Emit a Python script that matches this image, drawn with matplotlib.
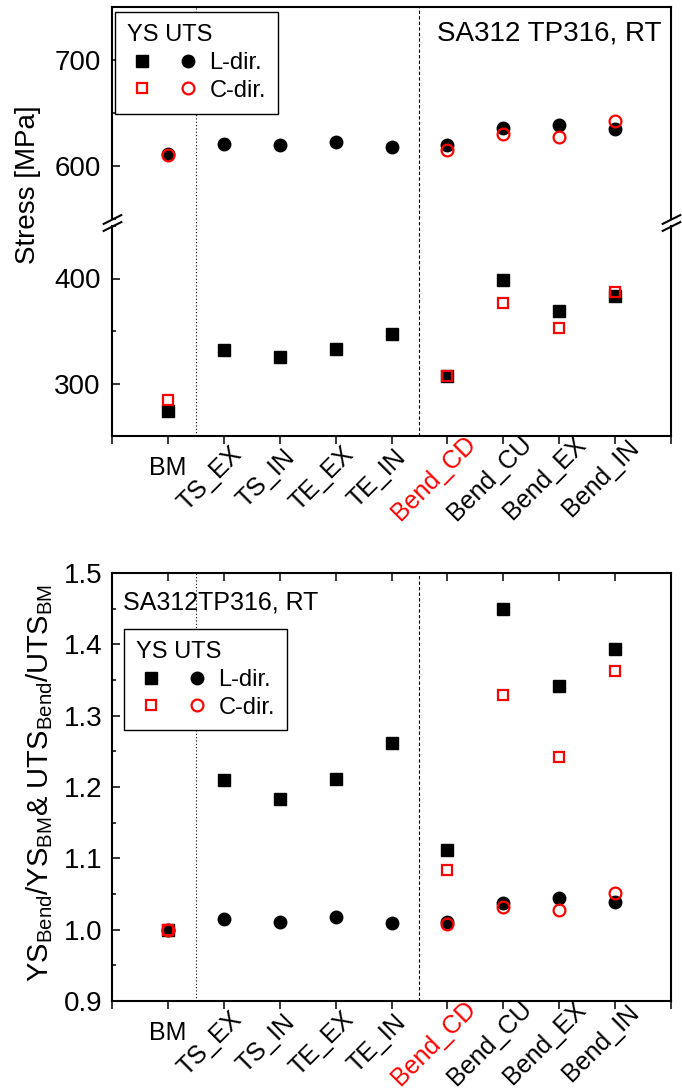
import numpy as np
import matplotlib
matplotlib.use('Agg')
import matplotlib.pyplot as plt
from matplotlib.ticker import MultipleLocator
from matplotlib.legend_handler import HandlerTuple
from matplotlib.transforms import ScaledTranslation

plt.rcParams['font.family'] = ['Liberation Sans', 'DejaVu Sans']
plt.rcParams['mathtext.fontset'] = 'custom'
plt.rcParams['mathtext.rm'] = 'Liberation Sans'
plt.rcParams['mathtext.default'] = 'regular'

# data
cats = ['BM', 'TS_EX', 'TS_IN', 'TE_EX', 'TE_IN', 'Bend_CD', 'Bend_CU', 'Bend_EX', 'Bend_IN']
nan = np.nan
ys_L = [274, 332, 325, 333, 347, 307, 399, 369, 383]
ys_C = [284, nan, nan, nan, nan, 307, 377, 353, 387]
uts_L = [611, 621, 619.5, 623, 617.5, 620, 635.5, 638.5, 635]
uts_C = [610, nan, nan, nan, nan, 615.5, 630, 627, 642.5]

ysr_L = [1.000, 1.210, 1.183, 1.211, 1.261, 1.111, 1.449, 1.342, 1.393]
ysr_C = [1.000, nan, nan, nan, nan, 1.083, 1.329, 1.242, 1.363]
utsr_L = [1.000, 1.015, 1.011, 1.018, 1.009, 1.011, 1.037, 1.044, 1.039]
utsr_C = [1.000, nan, nan, nan, nan, 1.008, 1.032, 1.028, 1.052]

x = np.arange(1, len(cats) + 1)

W, H = 682, 1092
fig = plt.figure(figsize=(W / 100, H / 100), dpi=100)
ax_u = fig.add_axes([112 / W, 1 - 219 / H, 559 / W, 212 / H])
ax_l = fig.add_axes([112 / W, 1 - 436 / H, 559 / W, 210 / H])
ax_b = fig.add_axes([112 / W, 1 - 1001 / H, 559 / W, 428 / H])

sq_L = dict(marker='s', ls='none', ms=8, mfc='k', mec='k', mew=1)
ci_L = dict(marker='o', ls='none', ms=9, mfc='k', mec='k', mew=1)
sq_C = dict(marker='s', ls='none', ms=7, mfc='none', mec='#ff0000', mew=1.6)
ci_C = dict(marker='o', ls='none', ms=8.5, mfc='none', mec='#ff0000', mew=1.6)

for ax in (ax_u, ax_l, ax_b):
    for s in ax.spines.values():
        s.set_linewidth(1.5)
    ax.set_xlim(0, 10)
    ax.tick_params(axis='y', which='both', direction='in', labelsize=20, pad=8, width=1.1)
    ax.tick_params(axis='y', which='major', length=6)
    ax.tick_params(axis='y', which='minor', length=3)

# separators; the lower stress axis reaches up through the break gap
for ax, top in ((ax_u, 1), (ax_l, 1.035), (ax_b, 1)):
    ax.axvline(1.5, ymax=top, color='k', lw=0.8, ls=(0, (1, 2)), zorder=1, clip_on=False)
    ax.axvline(5.5, ymax=top, color='k', lw=0.8, ls=(0, (3, 2)), zorder=1, clip_on=False)

# top panel, broken axis
for ax in (ax_u, ax_l):
    ax.plot(x, ys_L, **sq_L)
    ax.plot(x, uts_L, **ci_L)
    ax.plot(x, ys_C, **sq_C)
    ax.plot(x, uts_C, **ci_C)

ax_u.set_ylim(550, 750)
ax_l.set_ylim(250, 450)
for ax in (ax_u, ax_l):
    ax.yaxis.set_major_locator(MultipleLocator(100))
    ax.yaxis.set_minor_locator(MultipleLocator(50))
ax_u.spines['bottom'].set_visible(False)
ax_l.spines['top'].set_visible(False)
ax_u.tick_params(axis='x', which='both', bottom=False, top=False, labelbottom=False)

brk = dict(marker=[(-1, -0.5), (1, 0.5)], markersize=14, ls='none', color='k',
           mec='k', mew=1.5, clip_on=False)
ax_u.plot([0, 1], [0, 0], transform=ax_u.transAxes, **brk)
ax_l.plot([0, 1], [1, 1], transform=ax_l.transAxes, **brk)

ax_u.text(0.581, 0.844, 'SA312 TP316, RT', transform=ax_u.transAxes, fontsize=20,
          ha='left', va='baseline')

# bottom panel
p_sqL, = ax_b.plot(x, ysr_L, **sq_L)
p_ciL, = ax_b.plot(x, utsr_L, **ci_L)
p_sqC, = ax_b.plot(x, ysr_C, **sq_C)
p_ciC, = ax_b.plot(x, utsr_C, **ci_C)
ax_b.set_ylim(0.9, 1.5)
ax_b.yaxis.set_major_locator(MultipleLocator(0.1))
ax_b.yaxis.set_minor_locator(MultipleLocator(0.05))
ax_b.yaxis.set_major_formatter(matplotlib.ticker.FormatStrFormatter('%.1f'))
ax_b.tick_params(axis='y', pad=7)
ax_b.text(0.0197, 0.9136, 'SA312TP316, RT', transform=ax_b.transAxes, fontsize=18,
          ha='left', va='baseline')


def cat_axis(ax, top_ticks):
    ax.set_xticks(np.arange(0, 11))
    ax.set_xticklabels([''] + cats + [''])
    ax.xaxis.set_minor_locator(matplotlib.ticker.NullLocator())
    ax.tick_params(axis='x', which='major', bottom=True, top=top_ticks, direction='out',
                   length=6, width=1.1, labelsize=18, pad=23)
    if top_ticks:
        for t in ax.xaxis.get_major_ticks():
            t.tick2line.set_marker(matplotlib.lines.TICKDOWN)
    for i, lab in enumerate(ax.get_xticklabels()):
        if i == 0 or i == 10:
            continue
        lab.set_rotation_mode('anchor')
        lab.set_ha('center')
        lab.set_va('center')
        if cats[i - 1] == 'BM':
            lab.set_rotation(0)
            off = ScaledTranslation(0, 8 / 100, fig.dpi_scale_trans)
        else:
            lab.set_rotation(45)
            off = ScaledTranslation(-14 / 100, -2 / 100, fig.dpi_scale_trans)
        if cats[i - 1] == 'Bend_CD':
            lab.set_color('#ff0000')
        lab.set_transform(lab.get_transform() + off)


cat_axis(ax_l, False)
cat_axis(ax_b, True)

# legends: YS square and UTS circle side by side
hL = (p_sqL, p_ciL)
hC = (p_sqC, p_ciC)
for ax, anchor in ((ax_u, (0.0054, 0.976)), (ax_b, (0.0215, 0.869))):
    leg = ax.legend([hL, hC], ['L-dir.', 'C-dir.'], title='YS UTS', alignment='left',
                    handler_map={tuple: HandlerTuple(ndivide=None, pad=0.7)},
                    handlelength=3.2, handletextpad=0.3, fontsize=17, title_fontsize=17,
                    loc='upper left', bbox_to_anchor=anchor, borderaxespad=0,
                    fancybox=False, framealpha=1, edgecolor='k', labelspacing=0.25,
                    borderpad=0.5)
    leg.get_frame().set_linewidth(1.0)
    leg.set_zorder(5)

fig.text(28 / W, 1 - 185 / H, 'Stress [MPa]', rotation=90, fontsize=20, ha='center', va='center')
fig.text(40 / W, 1 - 783 / H,
         'Y$S_{Bend}$/Y$S_{BM}$& UT$S_{Bend}$/UT$S_{BM}$',
         rotation=90, fontsize=21, ha='center', va='center')

fig.savefig('out.png', dpi=100)
